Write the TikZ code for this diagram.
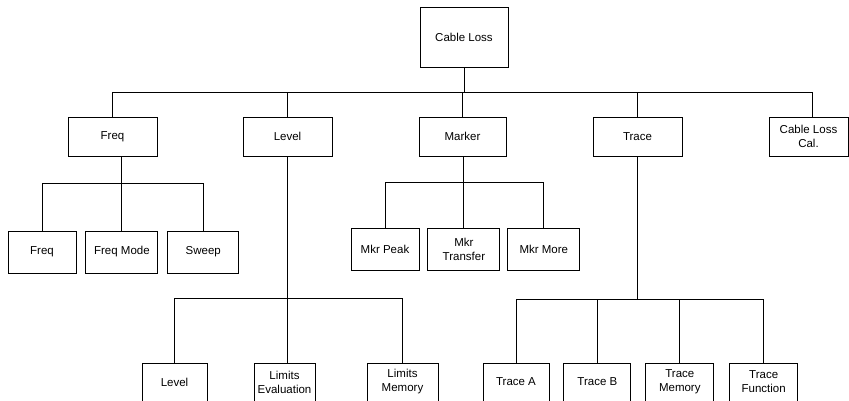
\documentclass[tikz,border=0pt]{standalone}
\usepackage{fontspec}
\setmainfont{Liberation Sans}
\usepackage{tikz}
\usetikzlibrary{positioning}

\begin{document}
\begin{tikzpicture}[x=1pt,y=-1pt,font=\fontsize{11.5}{14}\selectfont]
\tikzstyle{box}=[draw, line width=0.9pt, align=center, inner sep=0pt, minimum height=39pt]
\tikzstyle{leaf}=[box, minimum height=42pt]
\tikzstyle{bottom}=[box, minimum height=38pt]
\tikzstyle{link}=[line width=0.9pt]

\clip (0,0) rectangle (849,400);

\node[box, minimum width=88pt, minimum height=60pt] (root) at (464,37) {Cable Loss};

\node[box, minimum width=89pt] (freq) at (112.5,136.5) {Freq};
\node[box, minimum width=89pt] (level) at (287.5,136.5) {Level};
\node[box, minimum width=87pt] (marker) at (462.5,136.5) {Marker};
\node[box, minimum width=89pt] (trace) at (637.5,136.5) {Trace};
\node[box, minimum width=79pt] (cal) at (808.5,136.5) {Cable Loss\\Cal.};

\node[leaf, minimum width=68pt] (freqf) at (42,252) {Freq};
\node[leaf, minimum width=72pt, right=9pt of freqf] (fmode) {Freq Mode};
\node[leaf, minimum width=71pt, right=9pt of fmode] (sweep) {Sweep};

\node[leaf, minimum width=68pt] (mpeak) at (385,249.5) {Mkr Peak};
\node[leaf, minimum width=72pt, right=8pt of mpeak] (mtrans) {Mkr\\Transfer};
\node[leaf, minimum width=72pt, right=7pt of mtrans] (mmore) {Mkr More};

\node[bottom, minimum width=65pt] (lvl) at (174.5,382) {Level};
\node[bottom, minimum width=61pt] (limeval) at (284.5,382) {Limits\\Evaluation};
\node[bottom, minimum width=71pt] (limmem) at (402.5,382) {Limits\\Memory};

\node[bottom, minimum width=66pt] (tra) at (516,382) {Trace A};
\node[bottom, minimum width=67pt, right=14pt of tra] (trb) {Trace B};
\node[bottom, minimum width=68pt, right=14pt of trb] (trm) {Trace\\Memory};
\node[bottom, minimum width=68pt, right=15pt of trm] (trf) {Trace\\Function};

\draw[link] (root.south) -- ++(0,25) coordinate (top);
\draw[link] (freq.north) -- (freq.north |- top) -| ([xshift=3.5pt]cal.north);
\draw[link] (level.north) -- (level.north |- top);
\draw[link] (marker.north) -- (marker.north |- top);
\draw[link] (trace.north) -- (trace.north |- top);

\draw[link] (freq.south -| fmode.north) -- (fmode.north);
\draw[link] (freqf.north) -- ++(0,-47) -| (sweep.north);

\draw[link] (marker.south -| mtrans.north) -- (mtrans.north);
\draw[link] (mpeak.north) -- ++(0,-46) -| (mmore.north);

\draw[link] (level.south) -- (level.south |- limeval.north);
\draw[link] (lvl.north) -- ++(0,-64) -| (limmem.north);

\draw[link] (tra.north) -- ++(0,-63) coordinate (tbus) -| (trf.north);
\draw[link] (trace.south) -- (trace.south |- tbus);
\draw[link] (trb.north) -- (trb.north |- tbus);
\draw[link] (trm.north) -- (trm.north |- tbus);
\end{tikzpicture}
\end{document}
